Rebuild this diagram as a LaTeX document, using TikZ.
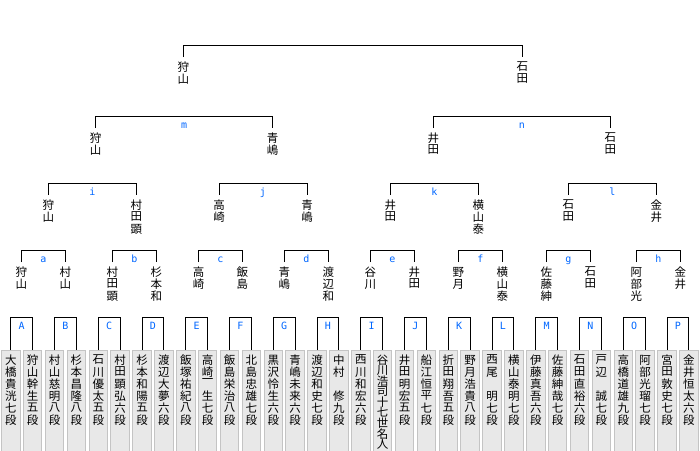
\documentclass[tikz,border=0pt]{standalone}
\usepackage{fontspec}
\newfontfamily\jp{Noto Sans CJK JP}
\newfontfamily\tagfont{DejaVu Sans Mono}
\definecolor{tagblue}{RGB}{0,102,255}
\definecolor{boxfill}{RGB}{232,232,232}
\definecolor{boxline}{RGB}{196,196,196}

% stack the characters of a name from top to bottom
\makeatletter
\newcount\tatecount
\newdimen\tatepitch
\newcommand\tate[1]{%
  \edef\tatelist{#1}\tatecount=0
  \expandafter\@tfor\expandafter\tc\expandafter:\expandafter=\tatelist\do{\advance\tatecount by 1 }%
  \ifnum\tatecount>8 \tatepitch=10.5pt \else \tatepitch=12pt \fi
  \vtop{\offinterlineskip
    \expandafter\@tfor\expandafter\tc\expandafter:\expandafter=\tatelist\do{%
      \hbox to 12pt{\hss\vbox to \tatepitch{\hbox{\tc}\vss}\hss}}}}
\makeatother

\begin{document}
\begin{tikzpicture}[x=1pt, y=-1pt, line width=1pt,
    player/.style = {font=\jp\fontsize{11.5}{12}\selectfont, inner xsep=0pt, inner ysep=4.5pt, anchor=north},
    entry/.style = {player, draw=boxline, fill=boxfill, line width=1pt, minimum width=18.5pt, text depth=88pt},
    grp/.style = {font=\tagfont\fontsize{10}{10}\selectfont, text=tagblue, inner sep=0pt, anchor=base, yshift=-12pt}]
    \useasboundingbox (0,0) rectangle (700,450);

    % entrants
    \foreach \nm [count=\i from 0] in {大橋貴洸七段,狩山幹生五段,村山慈明八段,杉本昌隆八段,
        石川優太五段,村田顕弘六段,杉本和陽五段,渡辺大夢六段,飯塚祐紀八段,高崎一生七段,
        飯島栄治八段,北島忠雄七段,黒沢怜生六段,青嶋未来六段,渡辺和史七段,中村　修九段,
        西川和宏六段,谷川浩司十七世名人,井田明宏五段,船江恒平七段,折田翔吾五段,野月浩貴八段,
        西尾　明七段,横山泰明七段,伊藤真吾六段,佐藤紳哉七段,石田直裕六段,戸辺　誠七段,
        高橋道雄九段,阿部光瑠七段,宮田敦史七段,金井恒太六段}
        \node[entry] (b\i) at ({10.8+21.875*\i},350) {\tate{\nm}};

    \foreach \L [count=\k from 0] in {A,B,C,D,E,F,G,H,I,J,K,L,M,N,O,P} {
        \pgfmathtruncatemacro\l{2*\k}
        \pgfmathtruncatemacro\r{2*\k+1}
        \draw (b\l.north) -- ++(0,-33) -| node[grp, pos=.25] {\L} (b\r.north);
    }

    % first round winners
    \node[player] (a1) at (21.3,262) {\tate{狩山}};
    \node[player] (a2) at (65.3,262) {\tate{村山}};
    \node[player] (b1) at (112.3,262) {\tate{村田顕}};
    \node[player] (b2) at (156.3,262) {\tate{杉本和}};
    \node[player] (c1) at (198.7,262) {\tate{高崎}};
    \node[player] (c2) at (242.3,262) {\tate{飯島}};
    \node[player] (d1) at (284.3,262) {\tate{青嶋}};
    \node[player] (d2) at (328.3,262) {\tate{渡辺和}};
    \node[player] (e1) at (370.3,262) {\tate{谷川}};
    \node[player] (e2) at (414.3,262) {\tate{井田}};
    \node[player] (f1) at (458.3,262) {\tate{野月}};
    \node[player] (f2) at (502.3,262) {\tate{横山泰}};
    \node[player] (g1) at (546.3,262) {\tate{佐藤紳}};
    \node[player] (g2) at (590.3,262) {\tate{石田}};
    \node[player] (h1) at (636.3,262) {\tate{阿部光}};
    \node[player] (h2) at (680.3,262) {\tate{金井}};

    % second round winners
    \node[player] (i1) at (48.3,195) {\tate{狩山}};
    \node[player] (i2) at (136.3,195) {\tate{村田顕}};
    \node[player] (j1) at (219,195) {\tate{高崎}};
    \node[player] (j2) at (307,195) {\tate{青嶋}};
    \node[player] (k1) at (390.3,195) {\tate{井田}};
    \node[player] (k2) at (478.3,195) {\tate{横山泰}};
    \node[player] (l1) at (568.3,195) {\tate{石田}};
    \node[player] (l2) at (656.3,195) {\tate{金井}};

    % semi finals and final
    \node[player] (m1) at (95.7,128) {\tate{狩山}};
    \node[player] (m2) at (272.7,128) {\tate{青嶋}};
    \node[player] (n1) at (433.3,128) {\tate{井田}};
    \node[player] (n2) at (610.3,128) {\tate{石田}};
    \node[player] (w1) at (183.3,57) {\tate{狩山}};
    \node[player] (w2) at (522.3,57) {\tate{石田}};

    \foreach \g in {a,b,c,d,e,f,g,h,i,j,k,l,m,n}
        \draw (\g1.north) -- ++(0,-12) -| node[grp, pos=.25] {\g} (\g2.north);
    \draw (w1.north) -- ++(0,-12) -| (w2.north);
\end{tikzpicture}
\end{document}
